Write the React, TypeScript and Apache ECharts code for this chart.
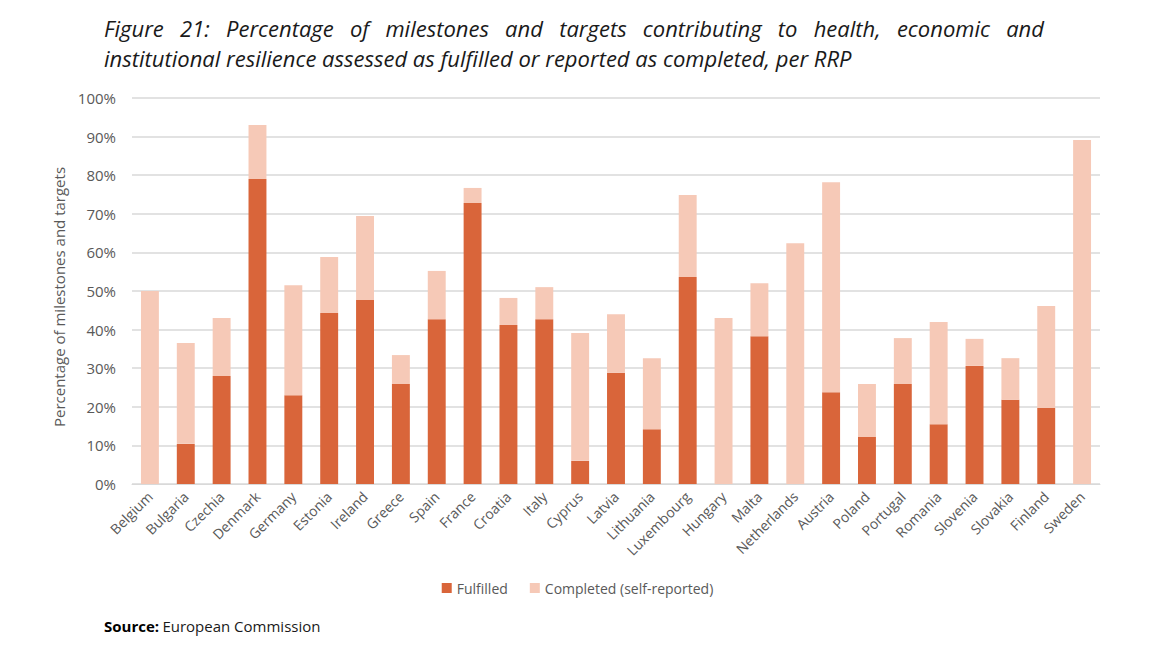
import React, { useEffect, useRef } from "react";
import * as echarts from "echarts";

const countries = ["Belgium","Bulgaria","Czechia","Denmark","Germany","Estonia","Ireland","Greece","Spain","France","Croatia","Italy","Cyprus","Latvia","Lithuania","Luxembourg","Hungary","Malta","Netherlands","Austria","Poland","Portugal","Romania","Slovenia","Slovakia","Finland","Sweden"];
const fulfilled = [0,10.4,28,79,23,44.3,47.7,25.9,42.7,72.8,41.2,42.7,6,28.8,14.2,53.6,0,38.3,0,23.8,12.2,25.9,15.5,30.6,21.8,19.7,0];
const completed = [50,26.1,15,14,28.5,14.5,21.7,7.5,12.5,3.9,7,8.3,33.1,15.2,18.4,21.3,43,13.7,62.4,54.4,13.7,11.9,26.5,7,10.8,26.4,89.1];
const yTicks = { min: 0, max: 100, interval: 10 };

const titleLine1 = "Figure 21: Percentage of milestones and targets contributing to health, economic and";
const titleLine2 = "institutional resilience assessed as fulfilled or reported as completed, per RRP";

const FONT = "'Open Sans', 'Noto Sans', sans-serif";
const GRAY = "#595959";

export default function App() {
  const ref = useRef<HTMLDivElement>(null);
  useEffect(() => {
    if (!ref.current) return;
    const chart = echarts.init(ref.current, null, { renderer: "svg" });
    const titleSize = 22;
    const left = 104, right = 1044;
    const canvas = document.createElement("canvas");
    const ctx = canvas.getContext("2d")!;
    ctx.font = `italic ${titleSize}px ${FONT}`;
    const words = titleLine1.split(" ");
    const widths = words.map((w) => ctx.measureText(w).width);
    const total = widths.reduce((a, b) => a + b, 0);
    const gap = (right - left - total) / (words.length - 1);
    let x = left;
    const wordEls: any[] = words.map((w, i) => {
      const el = {
        type: "text",
        left: x,
        top: 17,
        style: { text: w, font: `italic ${titleSize}px ${FONT}`, fill: "#1a1a1a" },
      };
      x += widths[i] + gap;
      return el;
    });
    chart.setOption({
      animation: false,
      grid: { left: 132, right: 55, top: 98, bottom: 166 },
      graphic: [
        ...wordEls,
        {
          type: "text",
          left: left,
          top: 47,
          style: { text: titleLine2, font: `italic ${titleSize}px ${FONT}`, fill: "#1a1a1a" },
        },
        {
          type: "text",
          left: 104,
          top: 618,
          style: {
            text: "{b|Source:} {n|European Commission}",
            rich: {
              b: { fontFamily: FONT, fontSize: 15, fontWeight: "bold", fill: "#000" },
              n: { fontFamily: FONT, fontSize: 15, fill: "#1a1a1a" },
            },
          },
        },
      ],
      legend: {
        bottom: 50,
        left: "center",
        itemWidth: 10,
        itemHeight: 10,
        itemGap: 22,
        icon: "rect",
        textStyle: { fontFamily: FONT, fontSize: 14, color: GRAY },
        data: ["Fulfilled", "Completed (self-reported)"],
      },
      xAxis: {
        type: "category",
        data: countries,
        axisLine: { lineStyle: { color: "#d9d9d9" } },
        axisTick: { show: false },
        axisLabel: { rotate: 45, interval: 0, fontFamily: FONT, fontSize: 14, color: GRAY, margin: 10 },
      },
      yAxis: {
        type: "value",
        min: yTicks.min,
        max: yTicks.max,
        interval: yTicks.interval,
        name: "Percentage of milestones and targets",
        nameLocation: "middle",
        nameRotate: 90,
        nameGap: 66,
        nameTextStyle: { fontFamily: FONT, fontSize: 15, color: GRAY, padding: [0, 12, 0, 0] },
        axisLabel: { formatter: "{value}%", fontFamily: FONT, fontSize: 15, color: GRAY, margin: 16 },
        axisLine: { show: false },
        axisTick: { show: false },
        splitLine: { lineStyle: { color: "#d9d9d9", width: 1.5 } },
      },
      series: [
        {
          name: "Fulfilled",
          type: "bar",
          stack: "s",
          data: fulfilled,
          barWidth: "50%",
          itemStyle: { color: "#D9653A" },
        },
        {
          name: "Completed (self-reported)",
          type: "bar",
          stack: "s",
          data: completed,
          barWidth: "50%",
          itemStyle: { color: "#F6C9B7" },
        },
      ],
    });
    return () => chart.dispose();
  }, []);
  return (
    <div
      ref={ref}
      style={{ position: "fixed", left: 0, top: 0, width: 1155, height: 650, background: "#fff" }}
    />
  );
}
